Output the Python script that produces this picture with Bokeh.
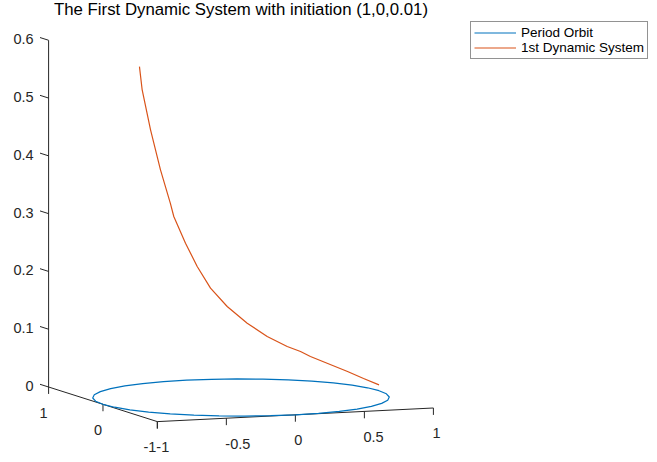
import numpy as np
from bokeh.plotting import figure
from bokeh.models import Range1d, Legend, LegendItem
from bokeh.core.properties import value
from bokeh.embed import file_html
from bokeh.resources import INLINE

# ---------------- data ----------------
title_text = "The First Dynamic System with initiation (1,0,0.01)"
legend_labels = ["Period Orbit", "1st Dynamic System"]

# periodic orbit: unit circle in the z = 0 plane (10 degree steps)
orbit_x = [1.0, 0.9848, 0.9397, 0.8660, 0.7660, 0.6428, 0.5, 0.3420, 0.1736, 0.0,
           -0.1736, -0.3420, -0.5, -0.6428, -0.7660, -0.8660, -0.9397, -0.9848, -1.0,
           -0.9848, -0.9397, -0.8660, -0.7660, -0.6428, -0.5, -0.3420, -0.1736, 0.0,
           0.1736, 0.3420, 0.5, 0.6428, 0.7660, 0.8660, 0.9397, 0.9848, 1.0]
orbit_y = [0.0, 0.1736, 0.3420, 0.5, 0.6428, 0.7660, 0.8660, 0.9397, 0.9848, 1.0,
           0.9848, 0.9397, 0.8660, 0.7660, 0.6428, 0.5, 0.3420, 0.1736, 0.0,
           -0.1736, -0.3420, -0.5, -0.6428, -0.7660, -0.8660, -0.9397, -0.9848, -1.0,
           -0.9848, -0.9397, -0.8660, -0.7660, -0.6428, -0.5, -0.3420, -0.1736, 0.0]
orbit_z = [0.0] * len(orbit_x)

# first dynamic system trajectory, starting at (1, 0, 0.01)
dyn_x = [1.0, 0.9751, 0.9232, 0.7593, 0.7090, 0.6380, 0.5250, 0.4051, 0.2783,
         0.1674, 0.0755, -0.0082, -0.0948, -0.1201, -0.1977, -0.2773, -0.3469, -0.3697]
dyn_y = [0.0, 0.2215, 0.3843, 0.6508, 0.7052, 0.7700, 0.8511, 0.9142, 0.9605,
         0.9859, 0.9972, 1.0000, 0.9955, 0.9928, 0.9803, 0.9608, 0.9379, 0.9291]
dyn_z = [0.01, 0.0147, 0.0226, 0.0425, 0.0501, 0.0577, 0.0739, 0.0964, 0.1254,
         0.1577, 0.1960, 0.2372, 0.2845, 0.3073, 0.3674, 0.4382, 0.5089, 0.5492]

x_ticks = [-1, -0.5, 0, 0.5, 1]
x_tick_labels = ["-1", "-0.5", "0", "0.5", "1"]
y_ticks = [-1, 0, 1]
y_tick_labels = ["-1", "0", "1"]
z_ticks = [0, 0.1, 0.2, 0.3, 0.4, 0.5, 0.6]
z_tick_labels = ["0", "0.1", "0.2", "0.3", "0.4", "0.5", "0.6"]

X_LIM = (-1, 1)
Y_LIM = (-1, 1)
Z_LIM = (0, 0.6)

# ---------------- view (orthographic, MATLAB-like) ----------------
AZ = np.deg2rad(-21.5)
EL = np.deg2rad(7.2)
S_XY = 148.35
S_Z = 582.5


def project(x, y, z):
    x = np.asarray(x, float)
    y = np.asarray(y, float)
    z = np.asarray(z, float)
    u = S_XY * (np.cos(AZ) * x + np.sin(AZ) * y)
    v = S_XY * np.sin(EL) * (-np.sin(AZ) * x + np.cos(AZ) * y) + S_Z * np.cos(EL) * z
    return u, v


FONT = value("Liberation Sans")
AX_COLOR = "#262626"

p = figure(width=649, height=454, output_backend="svg", toolbar_location=None,
           x_range=Range1d(-240.5, 408.5), y_range=Range1d(-57, 397),
           x_axis_location=None, y_axis_location=None, min_border=0)
p.outline_line_color = None
p.grid.visible = False

# axis lines
ax_pts = [((X_LIM[0], Y_LIM[1], Z_LIM[0]), (X_LIM[0], Y_LIM[1], Z_LIM[1])),
          ((X_LIM[0], Y_LIM[1], Z_LIM[0]), (X_LIM[0], Y_LIM[0], Z_LIM[0])),
          ((X_LIM[0], Y_LIM[0], Z_LIM[0]), (X_LIM[1], Y_LIM[0], Z_LIM[0]))]
xs, ys = [], []
for a, b in ax_pts:
    u, v = project([a[0], b[0]], [a[1], b[1]], [a[2], b[2]])
    xs.append(list(u))
    ys.append(list(v))
p.multi_line(xs, ys, line_color=AX_COLOR, line_width=1)

# ticks
tick_down = 0.012
u0, v0 = project(x_ticks, [Y_LIM[0]] * len(x_ticks), [Z_LIM[0]] * len(x_ticks))
u1, v1 = project(x_ticks, [Y_LIM[0]] * len(x_ticks), [Z_LIM[0] - tick_down] * len(x_ticks))
p.segment(u0, v0, u1, v1, line_color=AX_COLOR, line_width=1)
p.text(u0 - 1, v0 - 25.5, text=x_tick_labels, text_align="left", text_baseline="middle",
       text_font=FONT, text_font_size="14.5px", text_color=AX_COLOR)

yu0, yv0 = project([X_LIM[0]] * len(y_ticks), y_ticks, [Z_LIM[0]] * len(y_ticks))
yu1, yv1 = project([X_LIM[0]] * len(y_ticks), y_ticks, [Z_LIM[0] - tick_down] * len(y_ticks))
p.segment(yu0, yv0, yu1, yv1, line_color=AX_COLOR, line_width=1)
p.text(yu0 - 1, yv0 - 25.5, text=y_tick_labels, text_align="right", text_baseline="middle",
       text_font=FONT, text_font_size="14.5px", text_color=AX_COLOR)

zu0, zv0 = project([X_LIM[0]] * len(z_ticks), [Y_LIM[1]] * len(z_ticks), z_ticks)
zu1, zv1 = project([X_LIM[0]] * len(z_ticks), [Y_LIM[1] + 0.158] * len(z_ticks), z_ticks)
p.segment(zu0, zv0, zu1, zv1, line_color=AX_COLOR, line_width=1)
p.text(zu0 - 15, zv0 + 1, text=z_tick_labels, text_align="right", text_baseline="middle",
       text_font=FONT, text_font_size="14.5px", text_color=AX_COLOR)

# data lines
ou, ov = project(orbit_x, orbit_y, orbit_z)
r1 = p.line(ou, ov, line_color="#0072BD", line_width=1.2)
du, dv = project(dyn_x, dyn_y, dyn_z)
r2 = p.line(du, dv, line_color="#D95319", line_width=1.2)

# title
p.text([0], [388], text=[title_text], text_align="center", text_baseline="middle",
       text_font=FONT, text_font_size="16.8px", text_color="#000000")

legend = Legend(items=[LegendItem(label=legend_labels[0], renderers=[r1]),
                       LegendItem(label=legend_labels[1], renderers=[r2])],
                location=(470, 395))
legend.border_line_color = AX_COLOR
legend.border_line_width = 1
legend.background_fill_color = "white"
legend.background_fill_alpha = 1
legend.label_text_font = "Liberation Sans"
legend.label_text_font_size = "13.5px"
legend.label_text_color = "#000000"
legend.glyph_width = 42
legend.glyph_height = 15
legend.label_height = 15
legend.label_standoff = 5
legend.spacing = 0
legend.padding = 3
legend.margin = 0
p.add_layout(legend)

open("out.html", "w").write(file_html(p, INLINE))
